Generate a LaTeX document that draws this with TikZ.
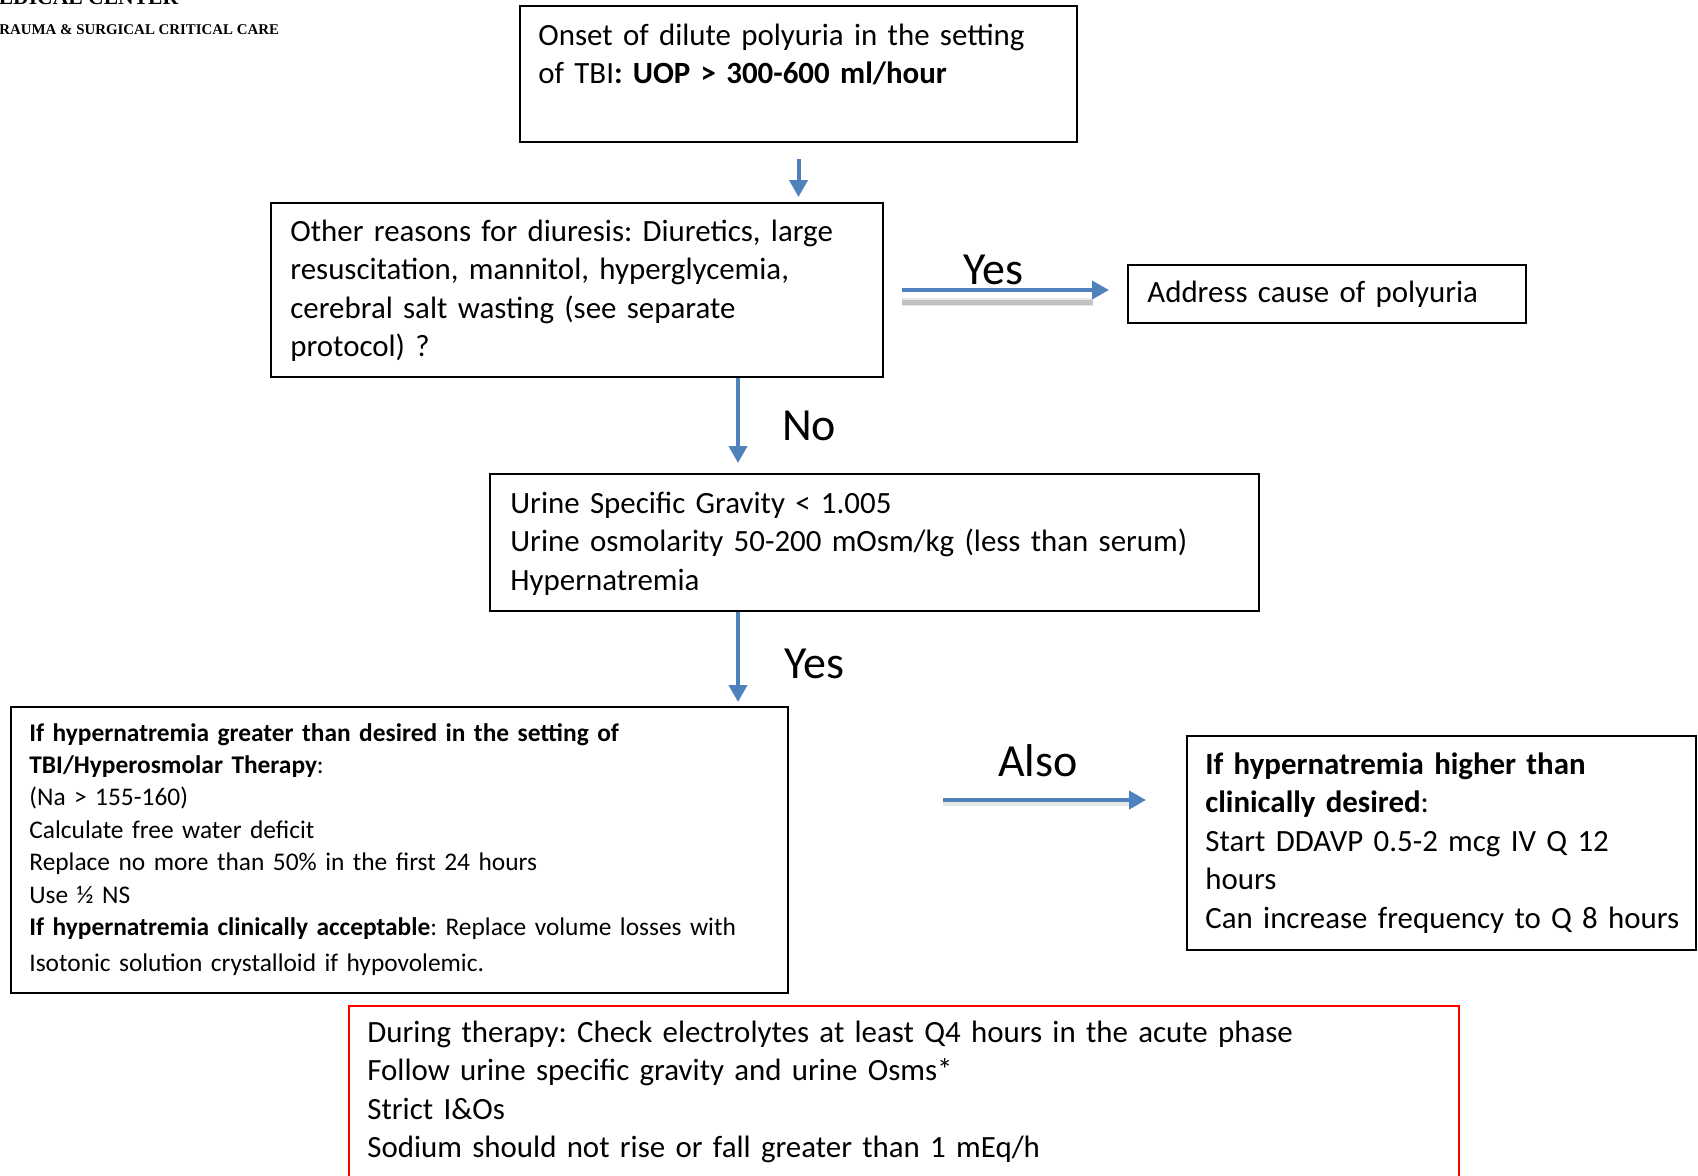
\documentclass[tikz,border=0pt]{standalone}
\usepackage{fontspec}
\setmainfont{Carlito}
\newfontfamily\headfont{Liberation Serif}
\usepackage{xcolor}
\usetikzlibrary{shapes,arrows.meta,positioning,calc}
\definecolor{flowblue}{HTML}{4F81BD}
\frenchspacing

\begin{document}
\begin{tikzpicture}[x=0.5pt, y=-0.5pt,
  box/.style={draw, line width=1pt, anchor=north west, inner sep=0pt},
  txt/.style={anchor=base west, inner sep=0pt, align=left, font=\fontsize{15.45}{19.3}\selectfont},
  smalltxt/.style={anchor=base west, inner sep=0pt, align=left, font=\fontsize{12.7}{16.2}\selectfont},
  flow/.style={flowblue, line width=2pt, -{Triangle[length=8.5pt,width=9pt]}},
  flowshadow/.style={gray, line width=2.5pt, opacity=0.35},
  lbl/.style={font=\fontsize{23}{27}\selectfont, inner sep=0pt}]
\useasboundingbox (0,0) rectangle (1698,1175);

% Header (cut off by the page edge)
\node[anchor=base west, inner sep=0pt, font=\headfont\bfseries\fontsize{10.8}{12}\selectfont] (hospital) at (-22,4) {MEDICAL CENTER};
\node[anchor=base west, inner sep=0pt, font=\headfont\bfseries\fontsize{7.45}{9}\selectfont] (division) at (-11,34) {TRAUMA \& SURGICAL CRITICAL CARE};

% Boxes
\node[box, minimum width=278.5pt, minimum height=68pt] (onset) at (519,5) {};
\node[box, minimum width=306pt, minimum height=87pt] (other) at (270,202) {};
\node[box, minimum width=199pt, minimum height=29pt] (address) at (1127,264) {};
\node[box, minimum width=384.5pt, minimum height=68.5pt] (urine) at (489,473) {};
\node[box, minimum width=388.5pt, minimum height=143pt] (hyper) at (10,706) {};
\node[box, minimum width=254.5pt, minimum height=107pt] (ddavp) at (1186,735) {};
\node[box, draw=red, minimum width=555pt, minimum height=100pt] (therapy) at (348,1005) {};

% Box texts
\node[txt, text width=270pt] (onsettext) at (538,45) {Onset of dilute polyuria in the setting\\ of TBI\textbf{: UOP > 300-600 ml/hour}};
\node[txt, text width=295pt] (othertext) at (290,241) {Other reasons for diuresis: Diuretics, large\\ resuscitation, mannitol, hyperglycemia,\\ cerebral salt wasting (see separate\\ protocol) ?};
\node[txt, text width=190pt] (addresstext) at (1147,302) {Address cause of polyuria};
\node[txt, text width=375pt] (urinetext) at (510,513) {Urine Specific Gravity < 1.005\\ Urine osmolarity 50-200 mOsm/kg (less than serum)\\ Hypernatremia};
\node[smalltxt, text width=380pt] (hypertext) at (29,741) {\textbf{If hypernatremia greater than desired in the setting of}\\ \textbf{TBI/Hyperosmolar Therapy}:\\ (Na > 155-160)\\ Calculate free water deficit\\ Replace no more than 50\% in the first 24 hours\\ Use ½ NS\\ \textbf{If hypernatremia clinically acceptable}: Replace volume losses with\\[2pt] Isotonic solution crystalloid if hypovolemic.};
\node[txt, text width=250pt] (ddavptext) at (1205,774) {\textbf{If hypernatremia higher than}\\ \textbf{clinically desired}:\\ Start DDAVP 0.5-2 mcg IV Q 12\\ hours\\ Can increase frequency to Q 8 hours};
\node[txt, text width=540pt] (therapytext) at (367,1042) {During therapy: Check electrolytes at least Q4 hours in the acute phase\\ Follow urine specific gravity and urine Osms*\\ Strict I\&Os\\ Sodium should not rise or fall greater than 1 mEq/h};

% Arrows
\draw[flow, shorten <=8pt, shorten >=2.5pt] (onset.south) -- (onset.south |- other.north);
\draw[flowshadow, shorten <=9pt, shorten >=17pt] ([yshift=-6pt]other.east) -- ([yshift=-6pt]other.east -| address.west);
\draw[flowshadow, opacity=0.2, line width=4pt, shorten <=9pt, shorten >=17pt] ([yshift=-6pt]other.east) -- ([yshift=-6pt]other.east -| address.west);
\draw[flow, shorten <=9pt, shorten >=9pt] (other.east) -- (other.east -| address.west);
\draw[flow, shorten >=5pt] ([xshift=80.5pt]other.south) -- ([xshift=80.5pt]other.south |- urine.north);
\draw[flow, shorten >=2pt] ([xshift=-68.25pt]urine.south) -- ([xshift=-68.25pt]urine.south |- hyper.north);
\draw[flowshadow, opacity=0.2, shorten <=77pt, shorten >=24pt] ([yshift=23.5pt]hyper.east) -- ([yshift=23.5pt]hyper.east -| ddavp.west);
\draw[flow, shorten <=77pt, shorten >=20pt] ([yshift=25pt]hyper.east) -- ([yshift=25pt]hyper.east -| ddavp.west);

% Arrow labels
\node[lbl] (yesright) at (993,270) {Yes};
\node[lbl] (no) at (809,426) {No};
\node[lbl] (yesdown) at (814,664) {Yes};
\node[lbl] (also) at (1038,761) {Also};
\end{tikzpicture}
\end{document}
